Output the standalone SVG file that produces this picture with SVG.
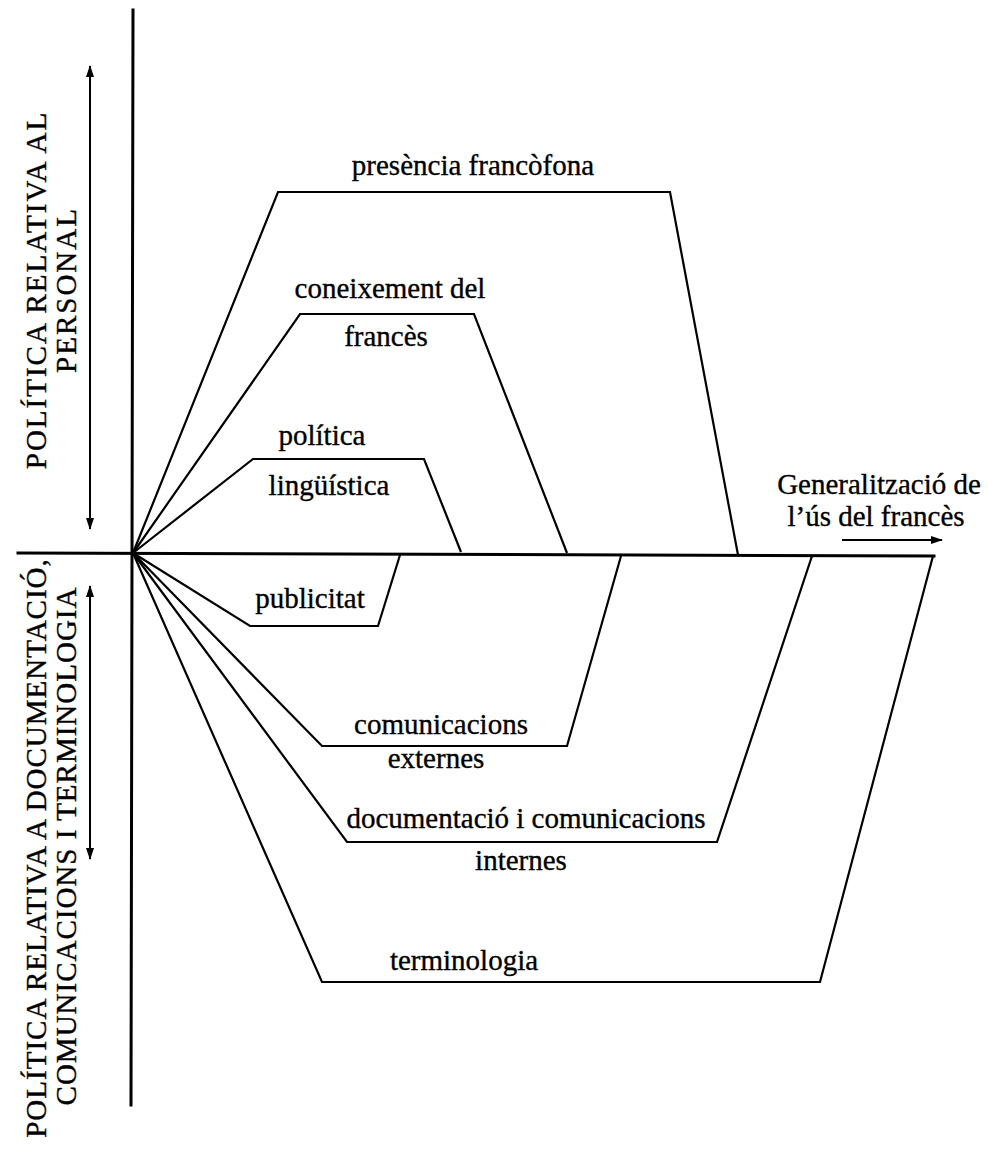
<svg xmlns="http://www.w3.org/2000/svg" width="988" height="1150" viewBox="0 0 988 1150">
  <style>
    .axis { stroke: #000; stroke-width: 3; fill: none; stroke-linecap: square; }
    .band { stroke: #000; stroke-width: 2.2; fill: none; stroke-linejoin: miter; }
    .dim { stroke: #000; stroke-width: 2; fill: none; }
    text { font-family: "Liberation Serif", "Times New Roman", serif; font-size: 29px; fill: #000; stroke: #000; stroke-width: 0.35; }
    .lbl { text-anchor: middle; }
    .side { text-anchor: middle; letter-spacing: 1px; }
    .side.wide { letter-spacing: 2px; }
  </style>
  <defs>
    <marker id="head" viewBox="0 0 12 8" refX="11" refY="4" markerWidth="12" markerHeight="8" markerUnits="userSpaceOnUse" orient="auto-start-reverse">
      <path d="M0,0 L12,4 L0,8 Z" fill="#000"/>
    </marker>
  </defs>
  <rect width="988" height="1150" fill="#fff"/>

  <!-- axes -->
  <g id="axes">
    <line class="axis" x1="133" y1="10" x2="131" y2="1105"/>
    <line class="axis" x1="18" y1="553" x2="934" y2="556"/>
  </g>

  <!-- side labels with range arrows -->
  <g id="personal-policy">
    <line class="dim" x1="90" y1="66" x2="90" y2="529" marker-start="url(#head)" marker-end="url(#head)"/>
    <text class="side wide" transform="translate(46,290) rotate(-90)">POLÍTICA RELATIVA AL</text>
    <text class="side wide" transform="translate(76,290) rotate(-90)">PERSONAL</text>
  </g>
  <g id="documentation-policy">
    <line class="dim" x1="90" y1="586" x2="90" y2="859" marker-start="url(#head)" marker-end="url(#head)"/>
    <text class="side" transform="translate(46,848) rotate(-90)">POLÍTICA RELATIVA A DOCUMENTACIÓ,</text>
    <text class="side" transform="translate(76,846) rotate(-90)">COMUNICACIONS I TERMINOLOGIA</text>
  </g>

  <!-- direction label -->
  <g id="generalization">
    <text class="lbl" x="879" y="494">Generalització de</text>
    <text class="lbl" x="876" y="526">l’ús del francès</text>
    <line class="dim" x1="842" y1="540" x2="942" y2="540" marker-end="url(#head)"/>
  </g>

  <!-- bands fanning out from the origin -->
  <g id="connectors">
    <path id="band-presencia" class="band" d="M133,553 L278,192 L670,192 L738,555"/>
    <path id="band-coneixement" class="band" d="M133,553 L300,314 L474,314 L567,553"/>
    <path id="band-politica" class="band" d="M133,553 L253,459 L424,459 L461,552"/>
    <path id="band-publicitat" class="band" d="M133,553 L250,626 L378,626 L400,555"/>
    <path id="band-comunicacions" class="band" d="M133,553 L322,746 L567,746 L621,556"/>
    <path id="band-documentacio" class="band" d="M133,553 L347,842 L717,842 L812,556"/>
    <path id="band-terminologia" class="band" d="M133,553 L322,982 L820,982 L933,556"/>
  </g>

  <g id="presencia"><text class="lbl" x="473" y="175">presència francòfona</text></g>
  <g id="coneixement">
    <text class="lbl" x="390" y="298">coneixement del</text>
    <text class="lbl" x="386" y="346">francès</text>
  </g>
  <g id="politica">
    <text class="lbl" x="322" y="445">política</text>
    <text class="lbl" x="329" y="495">lingüística</text>
  </g>
  <g id="publicitat"><text class="lbl" x="310" y="608">publicitat</text></g>
  <g id="comunicacions">
    <text class="lbl" x="441" y="734">comunicacions</text>
    <text class="lbl" x="436" y="768">externes</text>
  </g>
  <g id="documentacio">
    <text class="lbl" x="526" y="828">documentació i comunicacions</text>
    <text class="lbl" x="521" y="870">internes</text>
  </g>
  <g id="terminologia"><text class="lbl" x="464" y="970">terminologia</text></g>
</svg>
